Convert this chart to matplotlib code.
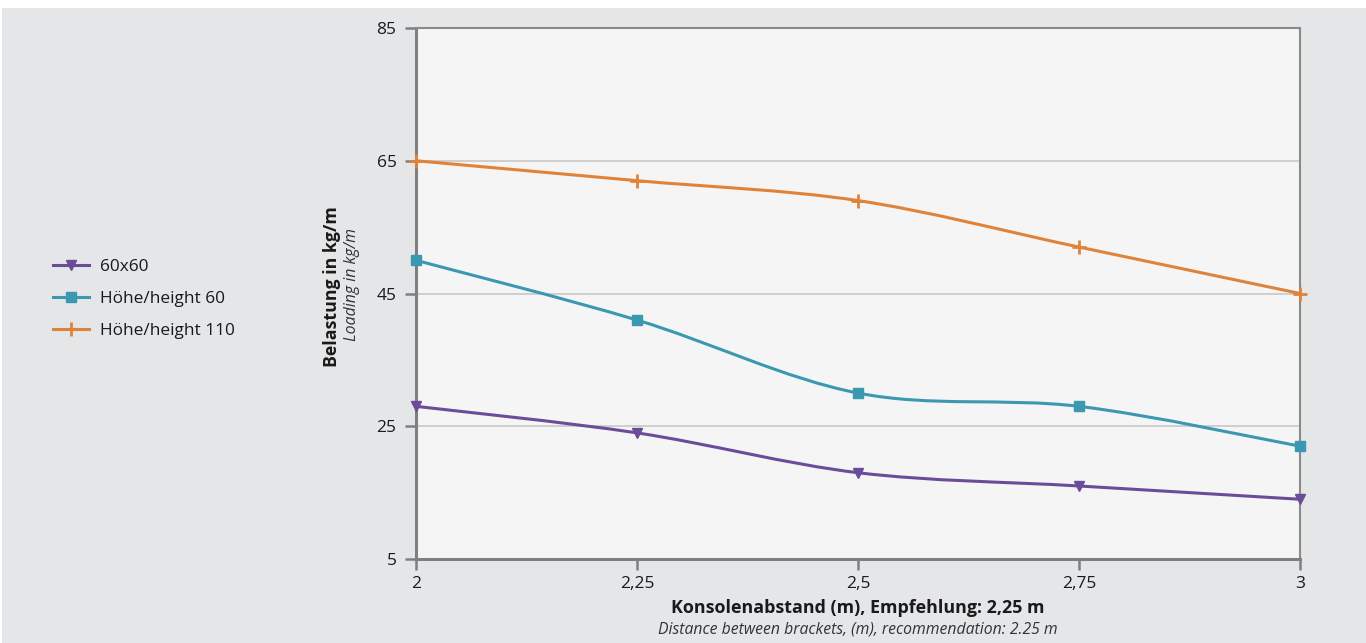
import matplotlib
matplotlib.use("Agg")
import matplotlib.pyplot as plt
from matplotlib.path import Path
from matplotlib.patches import PathPatch, Rectangle
from matplotlib.lines import Line2D
import numpy as np

plt.rcParams['font.family'] = ['Open Sans', 'DejaVu Sans']

x_vals = [2.0, 2.25, 2.5, 2.75, 3.0]
x_ticklabels = ["2", "2,25", "2,5", "2,75", "3"]
y_ticks = [5, 25, 45, 65, 85]
series_names = ["60x60", "Höhe/height 60", "Höhe/height 110"]
s_60x60 = [28, 24, 18, 16, 14]
s_h60 = [50, 41, 30, 28, 22]
s_h110 = [65, 62, 59, 52, 45]
colors = ["#6b4c9a", "#3a98b0", "#e0833a"]
markers = ["v", "s", "+"]

W, H = 1366, 643
fig = plt.figure(figsize=(W / 100, H / 100), dpi=100, facecolor="white")
fig.patches.append(Rectangle((2 / W, 0), 1 - 2 / W, 1 - 8 / H, transform=fig.transFigure,
                             facecolor="#e5e6e8", edgecolor="none", zorder=-10))

ax = fig.add_axes([416 / W, 1 - 559 / H, (1300 - 416) / W, (559 - 28) / H])
ax.set_facecolor("#f5f5f5")
ax.set_xlim(2, 3)
ax.set_ylim(5, 85)


def smooth_path(xs, ys):
    pts = np.column_stack([xs, ys]).astype(float)
    n = len(pts)
    verts = [pts[0]]
    codes = [Path.MOVETO]
    for i in range(n - 1):
        p0 = pts[i - 1] if i > 0 else pts[i]
        p1 = pts[i]
        p2 = pts[i + 1]
        p3 = pts[i + 2] if i + 2 < n else pts[i + 1]
        c1 = p1 + (p2 - p0) / 6.0
        c2 = p2 - (p3 - p1) / 6.0
        verts += [c1, c2, p2]
        codes += [Path.CURVE4] * 3
    return Path(verts, codes)


all_series = [s_60x60, s_h60, s_h110]
for name, ys, c, m in zip(series_names, all_series, colors, markers):
    patch = PathPatch(smooth_path(x_vals, ys), facecolor="none", edgecolor=c, lw=2.2,
                      zorder=3, clip_on=True)
    ax.add_patch(patch)
    if m == "+":
        ax.plot(x_vals, ys, linestyle="none", marker=m, color=c, markersize=10,
                markeredgewidth=2, zorder=4, clip_on=False)
    else:
        ax.plot(x_vals, ys, linestyle="none", marker=m, color=c, markersize=7,
                zorder=4, clip_on=False)

ax.set_yticks(y_ticks)
ax.set_xticks(x_vals)
ax.set_xticklabels(x_ticklabels)
ax.grid(axis="y", color="#c8c8c8", lw=1.2, zorder=1)
ax.set_axisbelow(True)
for s in ["left", "bottom"]:
    ax.spines[s].set_color("#7f7f7f")
    ax.spines[s].set_linewidth(2.2)
for s in ["top", "right"]:
    ax.spines[s].set_color("#8a8a8a")
    ax.spines[s].set_linewidth(1.5)
ax.tick_params(axis="both", colors="#7f7f7f", labelcolor="#1a1a1a", labelsize=12.5,
               width=1.8, length=8)
ax.tick_params(axis="y", pad=6)
ax.tick_params(axis="x", pad=4)

# y-axis labels
fig.text(332 / W, 1 - 287 / H, "Belastung in kg/m", rotation=90, ha="center", va="center",
         fontsize=12.8, fontweight="bold", color="#1a1a1a")
fig.text(352 / W, 1 - 285 / H, "Loading in kg/m", rotation=90, ha="center", va="center",
         fontsize=11.4, fontstyle="italic", color="#333333")
# x-axis labels
fig.text(858 / W, 1 - 608 / H, "Konsolenabstand (m), Empfehlung: 2,25 m", ha="center",
         va="center", fontsize=12.9, fontweight="bold", color="#1a1a1a")
fig.text(858 / W, 1 - 629 / H, "Distance between brackets, (m), recommendation: 2.25 m",
         ha="center", va="center", fontsize=11.3, fontstyle="italic", color="#333333")

handles = []
for name, c, m in zip(series_names, colors, markers):
    if m == "+":
        h = Line2D([], [], color=c, lw=2.2, marker=m, markersize=10, markeredgewidth=2)
    else:
        h = Line2D([], [], color=c, lw=2.2, marker=m, markersize=7)
    handles.append(h)
fig.legend(handles, series_names, loc="center left", bbox_to_anchor=(37 / W, 1 - 299 / H),
           frameon=False, fontsize=12.4, handlelength=2.1, labelspacing=0.95,
           handletextpad=0.65, labelcolor="#1a1a1a")

fig.savefig("out.png", dpi=100, facecolor=fig.get_facecolor())
